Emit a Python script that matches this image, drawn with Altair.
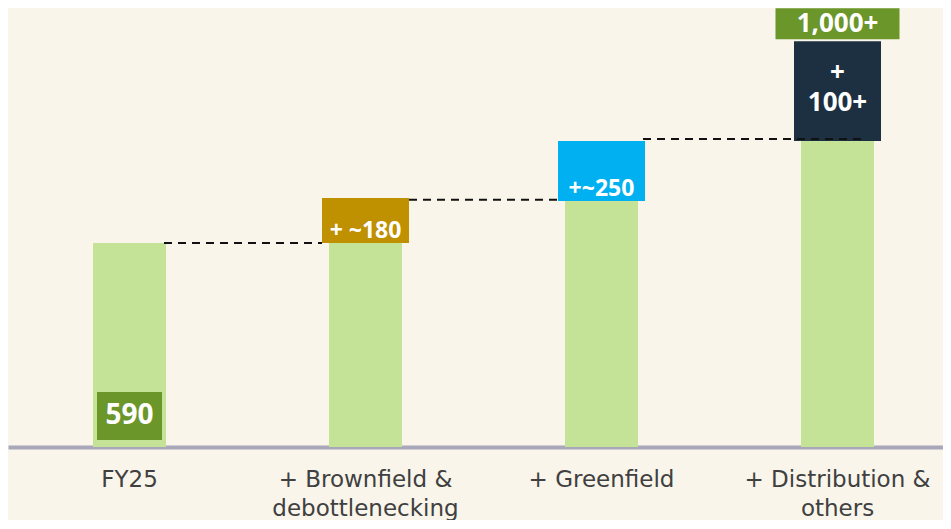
import altair as alt
import pandas as pd

# ---------------- data ----------------
categories = ["FY25", "+ Brownfield &\ndebottlenecking", "+ Greenfield", "+ Distribution &\nothers"]
base_values = [590, 590, 712, 885]          # height of the light-green bar
step_values = [0, 130, 173, 289]            # height of the coloured increment box
step_labels = ["", "+ ~180", "+~250", "+\n100+"]
start_labels = ["590", "", "", ""]
total_labels = ["", "", "", "1,000+"]
connector_from = [categories[0], categories[1], categories[2]]
connector_to = [categories[1], categories[2], categories[3]]
connector_levels = [590, 715, 891]

# ---------------- styles ----------------
BG = "#F9F5EB"
LIGHT_GREEN = "#C5E396"
DARK_GREEN = "#6B9629"
step_colors = ["#C5E396", "#BF9000", "#00B0F0", "#1C3041"]
connector_offsets = [(34.5, -43.5), (43.5, -44.5), (41.5, 24.5)]

df = pd.DataFrame({
    "cat": categories,
    "base": base_values,
    "step": step_values,
    "label": step_labels,
    "start_label": start_labels,
    "total_label": total_labels,
})
df["top"] = df["base"] + df["step"]
df["mid"] = (df["base"] + df["top"]) / 2
df["zero"] = 0

conn = pd.DataFrame({"from_cat": connector_from, "to_cat": connector_to, "level": connector_levels})

W, H = 935, 439
x_scale = alt.Scale(domain=categories, paddingInner=0.63136, paddingOuter=0.29661, align=0.55714)
y_scale = alt.Scale(domain=[0, 1270], nice=False, zero=True)

x_axis = alt.Axis(
    title=None, labelAngle=0, ticks=False, tickSize=0, grid=False,
    domainColor="#A9A8BA", domainWidth=4,
    labelFont="DejaVu Sans", labelFontSize=23, labelColor="#404040",
    labelPadding=21, labelLineHeight=29, labelLimit=400,
    labelExpr="split(datum.label, '\\n')",
)


def xenc(field="cat"):
    return alt.X(f"{field}:N", scale=x_scale, sort=categories, axis=x_axis)


def yenc(field):
    return alt.Y(f"{field}:Q", scale=y_scale, axis=None)


base = alt.Chart(df)

green_bars = base.mark_bar(color=LIGHT_GREEN, width=alt.RelativeBandSize(73 / 87)).encode(
    x=xenc(), y=yenc("base"), y2=alt.Y2("zero:Q")
)

step_boxes = base.transform_filter("datum.step > 0").mark_bar().encode(
    x=xenc(),
    y=yenc("base"),
    y2=alt.Y2("top:Q"),
    color=alt.Color("cat:N", scale=alt.Scale(domain=categories, range=step_colors), legend=None),
)

label_font = dict(font="Open Sans", fontWeight="bold", color="white")

low_labels = base.transform_filter(
    alt.FieldOneOfPredicate(field="cat", oneOf=[categories[1], categories[2]])
).mark_text(fontSize=23, baseline="alphabetic", dy=-5, **label_font).encode(
    x=xenc(), y=yenc("base"), text="label:N"
)

mid_labels = base.transform_filter(
    alt.FieldEqualPredicate(field="cat", equal=categories[3])
).mark_text(fontSize=26, baseline="middle", lineBreak="\n", lineHeight=30, dy=-18, **label_font).encode(
    x=xenc(), y=yenc("mid"), text="label:N"
)

start_box = base.transform_filter("datum.start_label != ''").mark_bar(
    color=DARK_GREEN, width=65, yOffset=-7, y2Offset=-55
).encode(x=xenc(), y=yenc("zero"), y2=alt.Y2("zero:Q"))

start_text = base.transform_filter("datum.start_label != ''").mark_text(
    fontSize=28, baseline="middle", dy=-31, **label_font
).encode(x=xenc(), y=yenc("zero"), text="start_label:N")

total_box = base.transform_filter("datum.total_label != ''").mark_bar(
    color=DARK_GREEN, width=124, yOffset=-2, y2Offset=-33
).encode(x=xenc(), y=yenc("top"), y2=alt.Y2("top:Q"))

total_text = base.transform_filter("datum.total_label != ''").mark_text(
    fontSize=26, baseline="middle", dy=-17, **label_font
).encode(x=xenc(), y=yenc("top"), text="total_label:N")

rules = []
for i, (o1, o2) in enumerate(connector_offsets):
    rules.append(
        alt.Chart(conn.iloc[[i]]).mark_rule(
            color="#111111", strokeWidth=2, strokeDash=[8, 6], xOffset=o1, x2Offset=o2
        ).encode(x=xenc("from_cat"), x2=alt.X2("to_cat:N"), y=yenc("level"))
    )

chart = alt.layer(
    green_bars, step_boxes, start_box, total_box, *rules,
    low_labels, mid_labels, start_text, total_text
).properties(
    width=W, height=H, background=BG,
    padding={"left": 0, "right": 0, "top": 0, "bottom": 0},
).configure_view(strokeWidth=0)

chart.save("out.html", embed_options={"renderer": "svg", "actions": False})
